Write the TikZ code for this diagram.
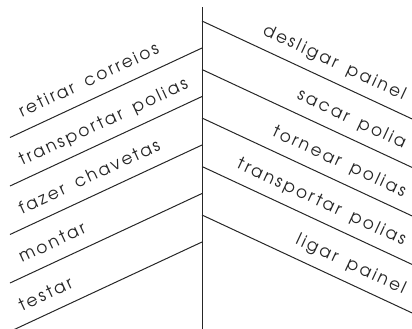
\documentclass[tikz,border=0pt]{standalone}
\usepackage{fontspec}
\newfontfamily\cadfont[LetterSpace=14,WordSpace=1.6]{TeX Gyre Adventor}
\begin{document}
\begin{tikzpicture}[x=1bp,y=-1bp,
  rule/.style={line width=1bp, draw=black!85},
  lbl/.style={font=\cadfont\fontsize{17bp}{20bp}\selectfont, inner sep=0pt, text=black!85},
  lefttask/.style={lbl, anchor=base west, rotate=25},
  righttask/.style={lbl, anchor=base east, rotate=-25}]
\useasboundingbox (0,0) rectangle (412,329);
% central spine
\coordinate (top) at (202,7);
\coordinate (bot) at (202,329);
\draw[rule] (top) -- (bot);
% left branches, each label sitting above its branch
\foreach \i/\y/\txt in {1/48/retirar correios, 2/96.5/transportar polias,
    3/145/fazer chavetas, 4/193.5/montar, 5/242/testar}{
  \coordinate (L\i e) at (202,\y);
  \coordinate (L\i s) at (10,{\y+89.5});
  \draw[rule] (L\i s) -- (L\i e);
  \node[lefttask] (LT\i) at (22,{\y+69.4}) {\txt};
}
% right branches
\foreach \i/\y/\txt in {1/21/desligar painel, 2/69.5/sacar polia,
    3/118/tornear polias, 4/166.5/transportar polias, 5/215/ligar painel}{
  \coordinate (R\i s) at (202,\y);
  \coordinate (R\i e) at (412,{\y+97.9});
  \draw[rule] (R\i s) -- (R\i e);
  \node[righttask] (RT\i) at (403,{\y+79.2}) {\txt};
}
\end{tikzpicture}
\end{document}
